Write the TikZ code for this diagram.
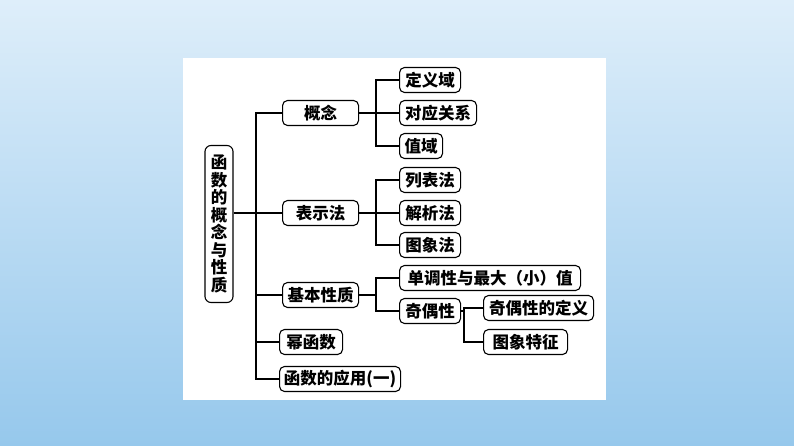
\documentclass[tikz,border=0pt]{standalone}
\usepackage{fontspec}
\newfontfamily\cjk{Noto Sans CJK SC}
\begin{document}
\begin{tikzpicture}[x=1pt,y=-1pt,
  bx/.style={draw,line width=1.1pt,rounded corners=5pt,anchor=west,minimum height=25pt,inner sep=1pt,font=\cjk\fontsize{16.5}{16.5}\selectfont\bfseries},
  ln/.style={line width=1.1pt}]
\shade[top color={rgb,255:red,222;green,238;blue,250},bottom color={rgb,255:red,150;green,200;blue,236}] (0,0) rectangle (794,446);
\useasboundingbox (0,0) rectangle (794,446);
\fill[white] (183,58) rectangle (606,400);
\node[draw,line width=1.1pt,rounded corners=6pt,minimum width=28pt,minimum height=157pt,inner sep=1pt,align=center,font=\cjk\fontsize{16.5}{17.5}\selectfont\bfseries] (root) at (219,224) {函\\数\\的\\概\\念\\与\\性\\质};
\node[bx,minimum width=76pt] (a) at (282,113) {概念};
\node[bx,minimum width=76pt] (b) at (282,213) {表示法};
\node[bx,minimum width=76pt] (c) at (282,295) {基本性质};
\node[bx,minimum width=63pt] (d) at (279,342) {幂函数};
\node[bx,minimum width=121pt] (e) at (279,379) {函数的应用(一)};
\node[bx,minimum width=61pt] (a1) at (399,80) {定义域};
\node[bx,minimum width=77pt] (a2) at (399,113) {对应关系};
\node[bx,minimum width=43pt] (a3) at (399,146) {值域};
\node[bx,minimum width=61pt] (b1) at (399,180) {列表法};
\node[bx,minimum width=61pt] (b2) at (399,213) {解析法};
\node[bx,minimum width=61pt] (b3) at (399,245) {图象法};
\node[bx,minimum width=181pt] (c1) at (399,278) {单调性与最大（小）值};
\node[bx,minimum width=61pt] (c2) at (399,311) {奇偶性};
\node[bx,minimum width=110pt] (c21) at (483,308) {奇偶性的定义};
\node[bx,minimum width=84pt] (c22) at (483,342) {图象特征};
% main spine
\draw[ln] (root.east|-0,213) -- (256,213);
\draw[ln] (a.west) -| (256,379) -- (e.west);
\foreach \n in {b,c,d} \draw[ln] (256,0|-\n.west) -- (\n.west);
% level 2
\draw[ln] (a.east) -- (376,113);
\draw[ln] (a1.west) -| (376,146) -- (a3.west);
\draw[ln] (376,113) -- (a2.west);
\draw[ln] (b.east) -- (376,213);
\draw[ln] (b1.west) -| (376,245) -- (b3.west);
\draw[ln] (376,213) -- (b2.west);
\draw[ln] (c.east) -- (376,295);
\draw[ln] (c1.west) -| (376,311) -- (c2.west);
\draw[ln] (c2.east) -- (464,311);
\draw[ln] (c21.west) -| (464,342) -- (c22.west);
\end{tikzpicture}
\end{document}
